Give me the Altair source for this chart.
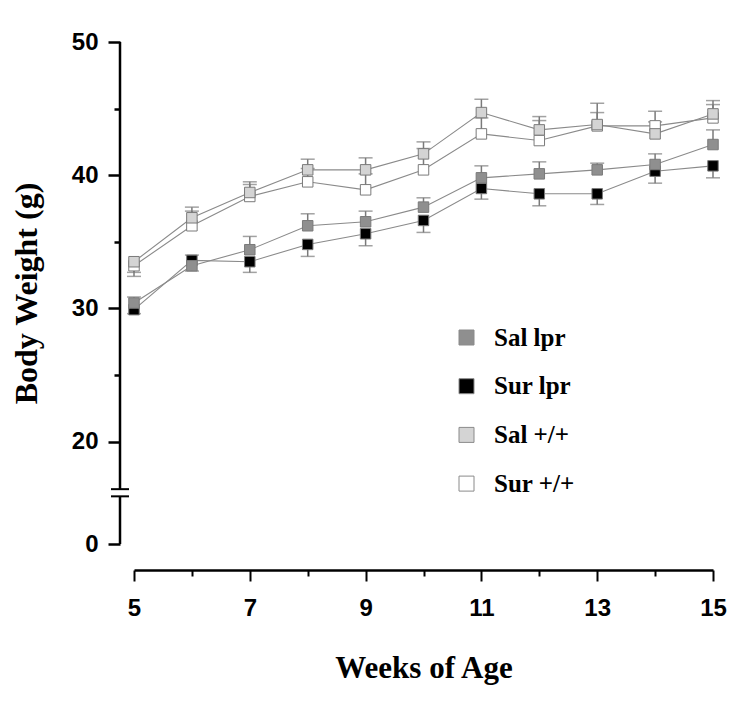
import altair as alt
import pandas as pd

# ---------------- data ----------------
weeks = [5, 6, 7, 8, 9, 10, 11, 12, 13, 14, 15]
groups = ["Sal lpr", "Sur lpr", "Sal +/+", "Sur +/+"]

sal_lpr = [30.4, 33.2, 34.4, 36.2, 36.5, 37.6, 39.8, 40.1, 40.4, 40.8, 42.3]
sur_lpr = [29.9, 33.6, 33.5, 34.8, 35.6, 36.6, 39.0, 38.6, 38.6, 40.3, 40.7]
sal_wt = [33.5, 36.8, 38.7, 40.4, 40.4, 41.6, 44.7, 43.4, 43.8, 43.1, 44.6]
sur_wt = [33.2, 36.2, 38.4, 39.5, 38.9, 40.4, 43.1, 42.6, 43.7, 43.7, 44.3]

# SEM and the side on which each error bar is drawn (+1 up, -1 down)
sal_lpr_sem = [0.45, 0.8, 1.0, 0.9, 0.8, 0.7, 0.9, 0.9, 0.5, 0.8, 1.1]
sur_lpr_sem = [0.3, 0.8, 0.8, 0.9, 0.9, 0.9, 0.8, 0.9, 0.8, 0.9, 0.9]
sal_wt_sem = [0.8, 0.8, 0.8, 0.8, 0.9, 0.9, 1.0, 1.0, 1.6, 0.9, 1.0]
sur_wt_sem = [0.8, 1.1, 0.9, 1.0, 1.2, 1.6, 1.2, 1.5, 1.0, 1.1, 1.0]
sal_lpr_dir = [1, 1, 1, 1, 1, 1, 1, 1, 1, 1, 1]
sur_lpr_dir = [-1, -1, -1, -1, -1, -1, -1, -1, -1, -1, -1]
sal_wt_dir = [-1, 1, 1, 1, 1, 1, 1, 1, 1, 1, 1]
sur_wt_dir = [-1, 1, 1, 1, 1, 1, 1, 1, 1, 1, 1]

fills = ["#8f8f8f", "#000000", "#d4d4d4", "#ffffff"]
draw_order = [2, 1, 4, 3]  # Sal drawn over Sur

y_major_ticks = [0, 20, 30, 40, 50]
y_minor_ticks = [25, 35, 45]
x_major_ticks = [5, 7, 9, 11, 13, 15]
x_minor_ticks = [6, 8, 10, 12, 14]
y_axis_segments = [(10.7, 50), (0, 9.3)]   # axis line broken between 9.3 and 10.7
y_break_marks = [10.7, 9.3]

# ---------------- tidy table ----------------
series = [sal_lpr, sur_lpr, sal_wt, sur_wt]
sems = [sal_lpr_sem, sur_lpr_sem, sal_wt_sem, sur_wt_sem]
dirs = [sal_lpr_dir, sur_lpr_dir, sal_wt_dir, sur_wt_dir]
rows = []
for g, vals, ss, dd, o in zip(groups, series, sems, dirs, draw_order):
    for w, v, s, d in zip(weeks, vals, ss, dd):
        rows.append({"week": w, "value": v, "sem": s, "group": g, "ord": o,
                     "end": v + d * s})
df = pd.DataFrame(rows)

seg_df = pd.DataFrame({"y1": [a for a, b in y_axis_segments],
                       "y2": [b for a, b in y_axis_segments]})
brk_df = pd.DataFrame({"y": y_break_marks})

W, H = 579, 502
x_scale = alt.Scale(domain=[5, 15], nice=False, zero=False)
y_scale = alt.Scale(domain=[0, 20, 50], range=[H, 399.5, 0], nice=False, zero=False)

LINE_GRAY = "#8a8a8a"
ERR_GRAY = "#7a7a7a"

x_major_axis = alt.Axis(
    orient="bottom", values=x_major_ticks, offset=26, grid=False,
    domain=True, domainColor="black", domainWidth=2.5,
    ticks=True, tickSize=11, tickWidth=2, tickColor="black",
    labelFont="Liberation Sans", labelFontSize=24, labelFontWeight="bold",
    labelColor="black", labelPadding=15, labelFlush=False, format="d",
    title="Weeks of Age", titleFont="Liberation Serif", titleFontSize=31,
    titleFontWeight="bold", titleColor="black", titlePadding=33)
x_minor_axis = alt.Axis(
    orient="bottom", values=x_minor_ticks, offset=26, grid=False, domain=False,
    ticks=True, tickSize=6, tickWidth=2, tickColor="black", labels=False, title=None)
y_major_axis = alt.Axis(
    orient="left", values=y_major_ticks, offset=14, grid=False, domain=False,
    ticks=True, tickSize=12, tickWidth=2.5, tickColor="black",
    labelFont="Liberation Sans", labelFontSize=24, labelFontWeight="bold",
    labelColor="black", labelPadding=10, labelOverlap=False, format="d",
    title="Body Weight (g)", titleFont="Liberation Serif", titleFontSize=32,
    titleFontWeight="bold", titleColor="black", titlePadding=28)
y_minor_axis = alt.Axis(
    orient="left", values=y_minor_ticks, offset=14, grid=False, domain=False,
    ticks=True, tickSize=6, tickWidth=2.5, tickColor="black", labels=False, title=None)

base = alt.Chart(df)

# axis carriers (invisible marks)
axis_major = base.mark_point(opacity=0).encode(
    x=alt.X("week:Q", scale=x_scale, axis=x_major_axis),
    y=alt.Y("value:Q", scale=y_scale, axis=y_major_axis))
axis_minor = base.mark_point(opacity=0).encode(
    x=alt.X("week:Q", scale=x_scale, axis=x_minor_axis),
    y=alt.Y("value:Q", scale=y_scale, axis=y_minor_axis))

# broken y axis line
y_line = alt.Chart(seg_df).mark_rule(color="black", strokeWidth=2.5).encode(
    x=alt.value(-14),
    y=alt.Y("y1:Q", scale=y_scale, axis=None),
    y2="y2:Q")
y_breaks = alt.Chart(brk_df).mark_rule(color="black", strokeWidth=2).encode(
    x=alt.value(-23), x2=alt.value(-5),
    y=alt.Y("y:Q", scale=y_scale, axis=None))

lines = base.mark_line(color=LINE_GRAY, strokeWidth=1.1).encode(
    x=alt.X("week:Q", scale=x_scale, axis=None),
    y=alt.Y("value:Q", scale=y_scale, axis=None),
    detail="group:N")

err = base.mark_rule(color=ERR_GRAY, strokeWidth=1.5).encode(
    x=alt.X("week:Q", scale=x_scale, axis=None),
    y=alt.Y("value:Q", scale=y_scale, axis=None),
    y2="end:Q")

caps = base.mark_tick(orient="horizontal", size=14, thickness=1.5,
                      color=ERR_GRAY).encode(
    x=alt.X("week:Q", scale=x_scale, axis=None),
    y=alt.Y("end:Q", scale=y_scale, axis=None))

points = base.mark_point(shape="square", filled=True, size=110, opacity=1,
                         fillOpacity=1, stroke="#7a7a7a", strokeWidth=1).encode(
    x=alt.X("week:Q", scale=x_scale, axis=None),
    y=alt.Y("value:Q", scale=y_scale, axis=None),
    fill=alt.Fill("group:N", scale=alt.Scale(domain=groups, range=fills),
                  legend=alt.Legend(
                      orient="none", legendX=320, legendY=283, title=None,
                      symbolType="square", symbolSize=225,
                      symbolStrokeColor="#8a8a8a", symbolStrokeWidth=1,
                      symbolOpacity=1,
                      labelFont="Liberation Serif", labelFontSize=25,
                      labelFontWeight="bold", labelColor="black",
                      labelOffset=15, rowPadding=22.7, padding=0)),
    order=alt.Order("ord:Q"))

chart = alt.layer(axis_major, axis_minor, y_line, y_breaks, lines, err, caps, points).resolve_axis(
    x="independent", y="independent"
).properties(
    width=W, height=H,
    autosize=alt.AutoSizeParams(type="none"),
    padding={"left": 126, "top": 34, "right": 29, "bottom": 150},
).configure(background="white", view=alt.ViewConfig(stroke=None))

chart.save("out.html", embed_options={"renderer": "svg", "actions": False})
